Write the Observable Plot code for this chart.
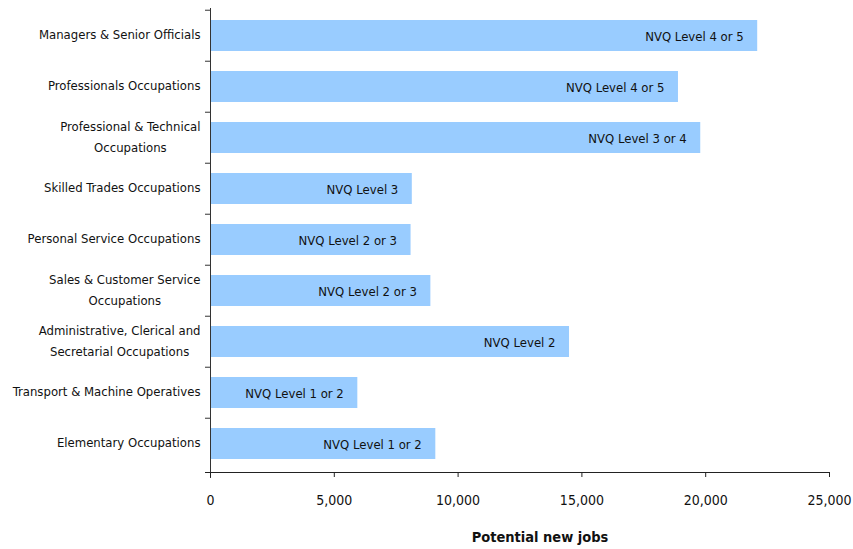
<!DOCTYPE html>
<html>
<head>
<meta charset="utf-8">
<script src="https://cdn.jsdelivr.net/npm/d3@7"></script>
<script src="https://cdn.jsdelivr.net/npm/@observablehq/plot@0.6"></script>
<style>
  html, body { margin: 0; padding: 0; background: #fff; }
  #chart svg { display: block; }
</style>
</head>
<body>
<div id="chart"></div>
<script>
const categories = [
  "Managers & Senior Officials",
  "Professionals Occupations",
  "Professional & Technical\nOccupations",
  "Skilled Trades Occupations",
  "Personal Service Occupations",
  "Sales & Customer Service\nOccupations",
  "Administrative, Clerical and\nSecretarial Occupations",
  "Transport & Machine Operatives",
  "Elementary Occupations"
];
const values = [22100, 18900, 19800, 8150, 8100, 8900, 14500, 5950, 9100];
const levels = [
  "NVQ Level 4 or 5",
  "NVQ Level 4 or 5",
  "NVQ Level 3 or 4",
  "NVQ Level 3",
  "NVQ Level 2 or 3",
  "NVQ Level 2 or 3",
  "NVQ Level 2",
  "NVQ Level 1 or 2",
  "NVQ Level 1 or 2"
];
const xTicks = [0, 5000, 10000, 15000, 20000, 25000];
const xLabel = "Potential new jobs";

const data = categories.map((c, i) => ({cat: c, value: values[i], level: levels[i]}));

const FONT = "'DejaVu Sans Condensed', 'DejaVu Sans', sans-serif";
const LABEL_SIZE = 13;
const ctx = document.createElement("canvas").getContext("2d");
ctx.font = LABEL_SIZE + "px " + FONT;
const measure = s => Math.max(...s.split("\n").map(l => ctx.measureText(l).width));

const W = 853, H = 549, mTop = 8, mBottom = 77, mLeft = 210, mRight = 24;
const step = (H - mTop - mBottom) / categories.length;

const labelMarks = categories.map(c =>
  Plot.text([c], {
    y: d => d, text: d => d, frameAnchor: "left", textAnchor: "middle",
    dx: -(measure(c) / 2 + 10), dy: -3, lineHeight: 1.55, fontSize: LABEL_SIZE, fill: "#111"
  })
);

const chart = Plot.plot({
  width: W, height: H,
  marginTop: mTop, marginBottom: mBottom, marginLeft: mLeft, marginRight: mRight,
  style: {fontFamily: FONT, fontSize: "13px", color: "#111", background: "#fff"},
  x: {domain: [0, 25000], label: null},
  y: {domain: categories, paddingInner: 0.385, paddingOuter: 0.19, align: 0.5, label: null},
  marks: [
    Plot.barX(data, {x: "value", y: "cat", fill: "#99CCFF"}),
    Plot.text(data, {x: "value", y: "cat", text: "level", textAnchor: "end", dx: -14, dy: 1, fontSize: 13, fill: "#111"}),
    Plot.axisY({text: null, tickSize: 5, dy: -step / 2, stroke: "#333", label: null}),
    Plot.frame({anchor: "left", stroke: "#333", insetBottom: -5}),
    Plot.frame({anchor: "bottom", stroke: "#222", insetLeft: -5}),
    Plot.axisX({ticks: xTicks, tickFormat: d3.format(","), tickSize: 5, tickPadding: 18, fontSize: 14, stroke: "#222", fill: "#111", label: null}),
    ...labelMarks,
    Plot.text([xLabel], {text: d => d, frameAnchor: "bottom", dy: 69, dx: 20, fontSize: 14.5, fontWeight: "bold", fill: "#111"})
  ]
});
document.getElementById("chart").appendChild(chart);
</script>
</body>
</html>
